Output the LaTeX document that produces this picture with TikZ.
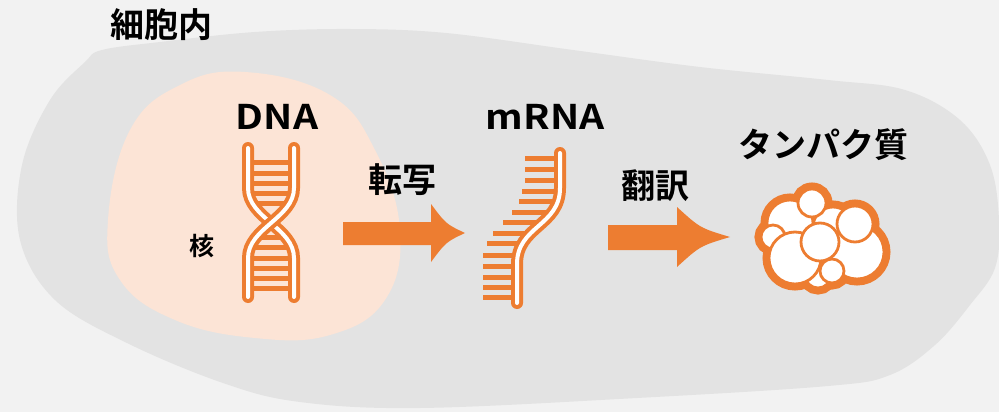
\documentclass[tikz,border=0pt]{standalone}
\usepackage{fontspec}
\setmainfont{Noto Sans CJK JP}[BoldFont={Noto Sans CJK JP Bold}]
\definecolor{bgc}{HTML}{F2F2F2}
\definecolor{cellc}{HTML}{E3E3E3}
\definecolor{nucc}{HTML}{FCE4D6}
\definecolor{org}{HTML}{ED7D31}
\newcommand{\widetxt}[1]{\scalebox{1.15}[1]{#1}}
\begin{document}
\begin{tikzpicture}[x=1pt,y=-1pt,
  strandout/.style={draw=org,line width=12,line cap=round},
  strandin/.style={draw=white,line width=4,line cap=round},
  rung/.style={fill=org},
  blockarrow/.style={fill=org},
  bigtxt/.style={inner sep=0,font=\bfseries\fontsize{34}{34}\selectfont},
  smalltxt/.style={inner sep=0,font=\bfseries\fontsize{25}{25}\selectfont},
  blobout/.style={draw=org,line width=13},
  blobin/.style={fill=white,draw=org,line width=2.8}]
% page
\fill[bgc] (0,0) rectangle (999,412);
\useasboundingbox (0,0) rectangle (999,412);
% cell body
\fill[cellc] plot[smooth cycle,tension=0.6] coordinates {
  (102,50) (160,42) (255,32) (350,29) (446,33) (573,50) (700,67) (828,80)
  (905,90) (960,120) (990,165) (999,220) (995,268) (970,305) (935,345)
  (890,375) (828,386) (637,398) (420,408) (300,402) (223,383) (127,343)
  (55,300) (20,240) (22,165) (50,100) (85,62)};
% nucleus
\fill[nucc] plot[smooth cycle,tension=0.7] coordinates {
  (245,72) (330,95) (375,150) (400,230) (385,300) (330,335) (255,338)
  (175,320) (120,280) (108,220) (130,130) (180,85)};
% labels
\node[bigtxt] (cell) at (161,25) {細胞内};
\node[bigtxt] (dna) at (277,117) {\widetxt{DNA}};
\node[bigtxt] (mrna) at (545,117) {\widetxt{mRNA}};
\node[bigtxt] (prot) at (823,145) {タンパク質};
\node[bigtxt] (tr) at (402,180) {転写};
\node[bigtxt] (tl) at (655,186) {翻訳};
\node[smalltxt] (nuc) at (202,246) {核};
% DNA double helix: rungs clipped between the strands
\begin{scope}
  \clip (248,148) -- (248,188) .. controls (248,218) and (294,228) .. (294,258)
    -- (294,297) -- (248,297) -- (248,258) .. controls (248,228) and (294,218) .. (294,188)
    -- (294,148) -- cycle;
  \foreach \y in {162,173,183,193,203,237,247,258,268,278,288}
    \fill[rung] (240,\y-2.5) rectangle (302,\y+2.5);
\end{scope}
\path[strandout] (248,148) -- (248,188) .. controls (248,218) and (294,228) .. (294,258) -- (294,297);
\path[strandin]  (248,148) -- (248,188) .. controls (248,218) and (294,228) .. (294,258) -- (294,297);
\path[strandout] (294,148) -- (294,188) .. controls (294,218) and (248,228) .. (248,258) -- (248,297);
\path[strandin]  (294,148) -- (294,188) .. controls (294,218) and (248,228) .. (248,258) -- (248,297);
% mRNA single strand
\foreach \y/\l/\r in {158/525/560,169/525/560,180/525/560,191/522/560,201/519/558,
    212/512/552,222/503/542,233/493/532,243/487/524,255/483/519,266/483/517,
    277/483/517,287/483/517,297/483/517}
  \fill[rung] (\l,\y-2.5) rectangle (\r,\y+2.5);
\path[strandout] (560,153) -- (560,188) .. controls (560,226) and (517,226) .. (517,264) -- (517,303);
\path[strandin]  (560,153) -- (560,188) .. controls (560,226) and (517,226) .. (517,264) -- (517,303);
% transcription arrow
\coordinate (a1tip) at (465,233);
\fill[blockarrow] (343,222) -- (431,222) -- (431,204) .. controls (446,224) .. (a1tip)
  .. controls (446,242) .. (431,262) -- (431,245) -- (343,245) -- cycle;
% translation arrow
\coordinate (a2tip) at (730,237);
\fill[blockarrow] (608,225) -- (677,225) -- (677,207) .. controls (700,228) .. (a2tip)
  .. controls (700,246) .. (677,267) -- (677,250) -- (608,250) -- cycle;
% protein: clustered globules, back to front
\def\globules{790/223/23,833/227/20,773/237/12,857/252/27,818/275/13,
    832/271/12,795/258/26,855/224/18,820/242/19,812/203/14}
\foreach \cx/\cy/\r in \globules
  \path[blobout] (\cx,\cy) circle[radius=\r];
\foreach \cx/\cy/\r in \globules
  \path[blobin] (\cx,\cy) circle[radius=\r];
\end{tikzpicture}
\end{document}
